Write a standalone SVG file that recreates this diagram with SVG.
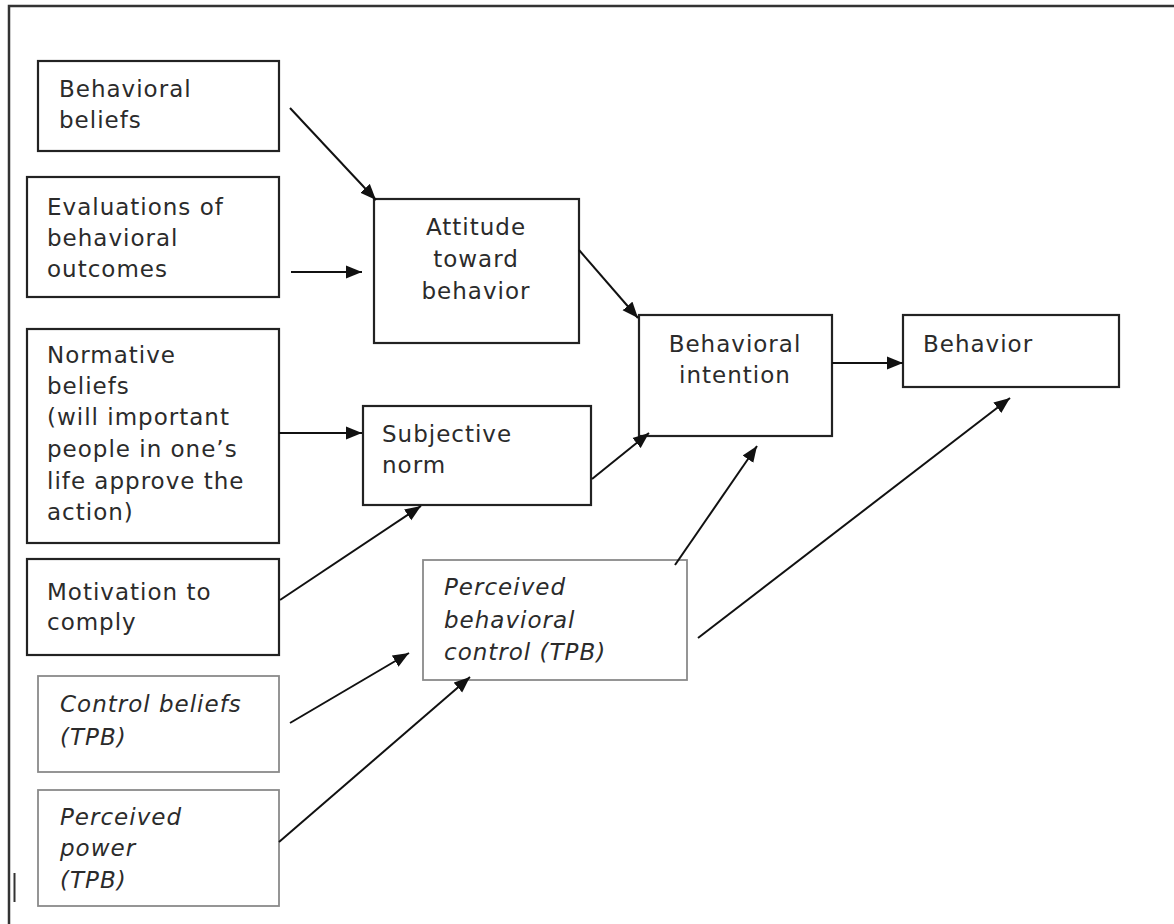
<svg xmlns="http://www.w3.org/2000/svg" width="1174" height="924" viewBox="0 0 1174 924">
<defs>
<marker id="ah" markerUnits="userSpaceOnUse" markerWidth="17" markerHeight="14" refX="16" refY="7" orient="auto">
<path d="M0,0.5 L16,7 L0,13.5 Z" fill="#111"/>
</marker>
<style>
.box{fill:#fff;stroke:#222;stroke-width:2.2}
.gbox{fill:#fff;stroke:#8a8a8a;stroke-width:1.8}
.t{font-family:"DejaVu Sans","Liberation Sans",sans-serif;font-size:23px;fill:#2b2b2b;letter-spacing:1px}
.i{font-style:italic}
.c{text-anchor:middle}
.ln{stroke:#111;stroke-width:2;fill:none;marker-end:url(#ah)}
</style>
</defs>
<rect width="1174" height="924" fill="#fff"/>
<g id="frame" stroke="#333" stroke-width="2.5" fill="none">
<path d="M1174,6 H9 V924"/>
<path d="M14.5,873 V902" stroke-width="2"/>
</g>
<g id="n-behavioral-beliefs">
<rect class="box" x="38" y="61" width="241" height="90"/>
<text class="t" x="59" y="97">Behavioral</text>
<text class="t" x="59" y="128">beliefs</text>
</g>
<g id="n-evaluations">
<rect class="box" x="27" y="177" width="252" height="120"/>
<text class="t" x="47" y="215">Evaluations of</text>
<text class="t" x="47" y="246">behavioral</text>
<text class="t" x="47" y="277">outcomes</text>
</g>
<g id="n-normative">
<rect class="box" x="27" y="329" width="252" height="214"/>
<text class="t" x="47" y="363">Normative</text>
<text class="t" x="47" y="394">beliefs</text>
<text class="t" x="47" y="425">(will important</text>
<text class="t" x="47" y="457">people in one’s</text>
<text class="t" x="47" y="489">life approve the</text>
<text class="t" x="47" y="520">action)</text>
</g>
<g id="n-motivation">
<rect class="box" x="27" y="559" width="252" height="96"/>
<text class="t" x="47" y="600">Motivation to</text>
<text class="t" x="47" y="630">comply</text>
</g>
<g id="n-control-beliefs">
<rect class="gbox" x="38" y="676" width="241" height="96"/>
<text class="t i" x="60" y="712">Control beliefs</text>
<text class="t i" x="60" y="745">(TPB)</text>
</g>
<g id="n-perceived-power">
<rect class="gbox" x="38" y="790" width="241" height="116"/>
<text class="t i" x="60" y="825">Perceived</text>
<text class="t i" x="60" y="856">power</text>
<text class="t i" x="60" y="888">(TPB)</text>
</g>
<g id="n-attitude">
<rect class="box" x="374" y="199" width="205" height="144"/>
<text class="t c" x="476" y="235">Attitude</text>
<text class="t c" x="476" y="267">toward</text>
<text class="t c" x="476" y="299">behavior</text>
</g>
<g id="n-subjective-norm">
<rect class="box" x="363" y="406" width="228" height="99"/>
<text class="t" x="382" y="442">Subjective</text>
<text class="t" x="382" y="473">norm</text>
</g>
<g id="n-pbc">
<rect class="gbox" x="423" y="560" width="264" height="120"/>
<text class="t i" x="444" y="595">Perceived</text>
<text class="t i" x="444" y="628">behavioral</text>
<text class="t i" x="444" y="660">control (TPB)</text>
</g>
<g id="n-intention">
<rect class="box" x="639" y="315" width="193" height="121"/>
<text class="t c" x="735" y="352">Behavioral</text>
<text class="t c" x="735" y="383">intention</text>
</g>
<g id="n-behavior">
<rect class="box" x="903" y="315" width="216" height="72"/>
<text class="t" x="923" y="352">Behavior</text>
</g>
<g id="connectors">
<line class="ln" x1="290" y1="108" x2="376" y2="200"/>
<line class="ln" x1="291" y1="272" x2="362" y2="272"/>
<line class="ln" x1="579" y1="250" x2="638" y2="318"/>
<line class="ln" x1="279" y1="433" x2="362" y2="433"/>
<line class="ln" x1="280" y1="600" x2="421" y2="506"/>
<line class="ln" x1="592" y1="479" x2="649" y2="433"/>
<line class="ln" x1="675" y1="565" x2="757" y2="446"/>
<line class="ln" x1="698" y1="638" x2="1010" y2="398"/>
<line class="ln" x1="290" y1="723" x2="409" y2="653"/>
<line class="ln" x1="279" y1="842" x2="470" y2="677"/>
<line class="ln" x1="832" y1="363" x2="903" y2="363"/>
</g>
</svg>
